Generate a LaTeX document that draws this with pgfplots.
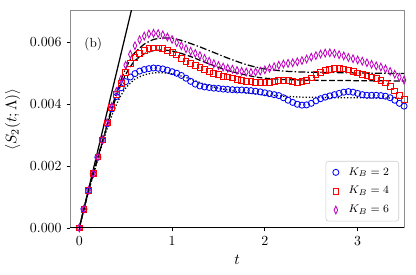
\documentclass[border=0pt]{standalone}
\usepackage{pgfplots}
\usepackage{pgfplotstable}
\pgfplotsset{compat=1.18}
\definecolor{mpblue}{HTML}{0000FF}
\definecolor{mpred}{HTML}{FF0000}
\definecolor{mpmag}{HTML}{BF00BF}

\pgfplotstableread{
t k2 k4 k6
0.00 0.00000 0.00000 0.00000
0.05 0.00061 0.00061 0.00061
0.10 0.00120 0.00121 0.00121
0.15 0.00174 0.00175 0.00175
0.20 0.00228 0.00229 0.00229
0.25 0.00283 0.00284 0.00284
0.30 0.00336 0.00339 0.00340
0.35 0.00384 0.00388 0.00392
0.40 0.00424 0.00430 0.00440
0.45 0.00452 0.00466 0.00480
0.50 0.00472 0.00503 0.00525
0.55 0.00487 0.00530 0.00560
0.60 0.00498 0.00550 0.00588
0.65 0.00506 0.00563 0.00607
0.70 0.00511 0.00572 0.00619
0.75 0.00514 0.00578 0.00626
0.80 0.00516 0.00581 0.00628
0.85 0.00515 0.00581 0.00627
0.90 0.00513 0.00578 0.00623
0.95 0.00509 0.00573 0.00616
1.00 0.00504 0.00566 0.00608
1.05 0.00499 0.00558 0.00598
1.10 0.00492 0.00548 0.00588
1.15 0.00483 0.00538 0.00578
1.20 0.00473 0.00530 0.00570
1.25 0.00464 0.00524 0.00563
1.30 0.00458 0.00518 0.00556
1.35 0.00455 0.00511 0.00547
1.40 0.00453 0.00505 0.00538
1.45 0.00451 0.00499 0.00530
1.50 0.00450 0.00494 0.00524
1.55 0.00448 0.00490 0.00519
1.60 0.00447 0.00487 0.00515
1.65 0.00446 0.00484 0.00512
1.70 0.00445 0.00480 0.00508
1.75 0.00445 0.00477 0.00505
1.80 0.00444 0.00474 0.00503
1.85 0.00443 0.00472 0.00502
1.90 0.00441 0.00470 0.00503
1.95 0.00439 0.00469 0.00506
2.00 0.00436 0.00469 0.00510
2.05 0.00433 0.00470 0.00515
2.10 0.00430 0.00472 0.00520
2.15 0.00427 0.00475 0.00525
2.20 0.00420 0.00476 0.00529
2.25 0.00412 0.00476 0.00531
2.30 0.00405 0.00473 0.00533
2.35 0.00399 0.00470 0.00536
2.40 0.00396 0.00472 0.00540
2.45 0.00397 0.00477 0.00545
2.50 0.00402 0.00484 0.00551
2.55 0.00410 0.00495 0.00556
2.60 0.00417 0.00503 0.00561
2.65 0.00422 0.00508 0.00564
2.70 0.00426 0.00512 0.00565
2.75 0.00430 0.00514 0.00563
2.80 0.00434 0.00514 0.00559
2.85 0.00438 0.00513 0.00555
2.90 0.00440 0.00510 0.00550
2.95 0.00438 0.00505 0.00546
3.00 0.00434 0.00500 0.00542
3.05 0.00430 0.00495 0.00538
3.10 0.00428 0.00491 0.00533
3.15 0.00428 0.00487 0.00528
3.20 0.00428 0.00482 0.00523
3.25 0.00427 0.00477 0.00519
3.30 0.00425 0.00468 0.00513
3.35 0.00420 0.00456 0.00505
3.40 0.00412 0.00442 0.00496
3.45 0.00402 0.00428 0.00486
3.50 0.00393 0.00415 0.00477
}\markers

\pgfplotstableread{
t v
0.00 0.00000
0.05 0.00060
0.10 0.00118
0.15 0.00170
0.20 0.00222
0.25 0.00272
0.30 0.00320
0.35 0.00362
0.40 0.00398
0.45 0.00428
0.50 0.00451
0.55 0.00467
0.60 0.00480
0.70 0.00494
0.80 0.00500
0.90 0.00501
1.00 0.00497
1.10 0.00490
1.20 0.00480
1.30 0.00469
1.40 0.00459
1.50 0.00451
1.60 0.00445
1.70 0.00440
1.80 0.00436
1.90 0.00432
2.00 0.00429
2.20 0.00425
2.40 0.00422
2.60 0.00421
2.80 0.00420
3.00 0.00420
3.20 0.00419
3.40 0.00419
3.50 0.00418
}\thtwo

\pgfplotstableread{
t v
0.00 0.00000
0.05 0.00061
0.10 0.00120
0.15 0.00173
0.20 0.00226
0.25 0.00278
0.30 0.00330
0.35 0.00380
0.40 0.00425
0.45 0.00463
0.50 0.00495
0.55 0.00520
0.60 0.00540
0.70 0.00562
0.80 0.00572
0.90 0.00574
1.00 0.00571
1.10 0.00563
1.20 0.00553
1.30 0.00541
1.40 0.00529
1.50 0.00518
1.60 0.00508
1.70 0.00500
1.80 0.00493
1.90 0.00487
2.00 0.00483
2.20 0.00479
2.40 0.00477
2.60 0.00476
2.80 0.00476
3.00 0.00475
3.20 0.00475
3.50 0.00474
}\thfour

\pgfplotstableread{
t v
0.00 0.00000
0.05 0.00061
0.10 0.00121
0.15 0.00175
0.20 0.00228
0.25 0.00280
0.30 0.00334
0.35 0.00388
0.40 0.00435
0.45 0.00478
0.50 0.00514
0.55 0.00543
0.60 0.00566
0.70 0.00593
0.80 0.00608
0.90 0.00613
1.00 0.00612
1.10 0.00605
1.20 0.00595
1.30 0.00584
1.40 0.00572
1.50 0.00560
1.60 0.00548
1.70 0.00537
1.80 0.00527
1.90 0.00519
2.00 0.00513
2.20 0.00506
2.40 0.00503
2.60 0.00502
2.80 0.00501
3.00 0.00500
3.20 0.00499
3.50 0.00498
}\thsix

\pgfplotstableread{
t v
0.0 0.0000
0.6 0.0075
}\linear

\begin{document}
\begin{tikzpicture}
\begin{axis}[
  name=main,
  scale only axis,
  width=240.5pt, height=156.2pt,
  xmin=-0.1, xmax=3.5,
  ymin=0, ymax=0.007,
  xtick={0,1,2,3},
  ytick={0,0.002,0.004,0.006},
  scaled y ticks=false,
  yticklabel style={/pgf/number format/fixed, /pgf/number format/fixed zerofill, /pgf/number format/precision=3},
  tick align=outside,
  major tick length=2.5pt,
  tick style={black, line width=0.6pt},
  xtick pos=bottom, ytick pos=left,
  axis line style={draw=black!45, line width=0.7pt},
  xlabel={$t$}, ylabel={$\langle S_2(t;\Lambda)\rangle$},
  label style={font=\fontsize{11}{13}\selectfont},
  xlabel style={at={(axis description cs:0.5,-0.148)}, anchor=center},
  ylabel style={at={(axis description cs:-0.172,0.5)}, anchor=center},
  clip=true,
  legend style={at={(0.985,0.03)}, anchor=south east, draw=black!20, rounded corners=2pt,
    fill=white, fill opacity=0.8, text opacity=1, font=\fontsize{8.5}{10}\selectfont,
    row sep=2.6pt, inner xsep=5pt, inner ysep=2.5pt,
    /tikz/every odd column/.append style={column sep=5pt}},
  legend cell align=left,
]
\addplot[only marks, mark=o, mark size=2.2pt, color=mpblue, line width=0.6pt] table[x=t,y=k2] {\markers};
\addlegendentry{$K_B=2$}
\addplot[only marks, mark=square, mark size=2.1pt, color=mpred, line width=0.6pt] table[x=t,y=k4] {\markers};
\addlegendentry{$K_B=4$}
\addplot[only marks, mark=diamond, mark size=2.8pt, mark options={xscale=0.62}, color=mpmag, line width=0.6pt] table[x=t,y=k6] {\markers};
\addlegendentry{$K_B=6$}
\addplot[forget plot, black, line width=0.9pt, smooth, tension=0.3, dash pattern=on 0.9pt off 1.4pt] table[x=t,y=v] {\thtwo};
\addplot[forget plot, black, line width=0.9pt, smooth, tension=0.3, dash pattern=on 4pt off 1.8pt] table[x=t,y=v] {\thfour};
\addplot[forget plot, black, line width=0.9pt, smooth, tension=0.3, dash pattern=on 5pt off 1.6pt on 1pt off 1.6pt] table[x=t,y=v] {\thsix};
\addplot[forget plot, black, line width=0.9pt] table[x=t,y=v] {\linear};
\node[font=\fontsize{9.5}{11}\selectfont] at (axis cs:0.15,0.00594) {(b)};
\end{axis}
\draw[black, line width=0.7pt] (main.south west) -- (main.south east);
\pgfresetboundingbox
\path[use as bounding box] ([xshift=-50.4pt,yshift=-33.8pt]main.south west) rectangle ([xshift=8.6pt,yshift=7.9pt]main.north east);
\end{tikzpicture}
\end{document}
